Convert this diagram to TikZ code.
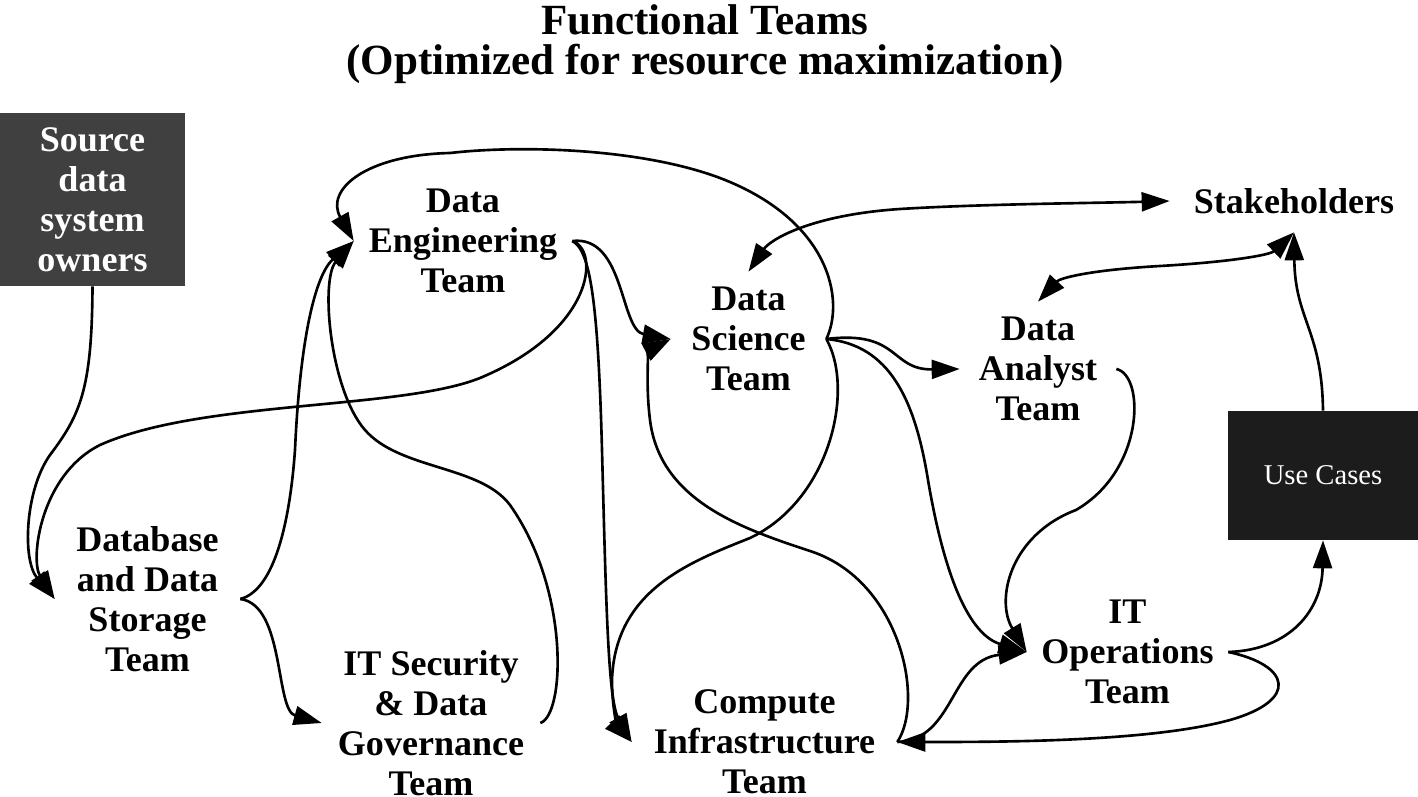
\documentclass[tikz,border=0pt]{standalone}
\usepackage{fontspec}
\setmainfont{Liberation Serif}
\usetikzlibrary{arrows.meta}
\definecolor{sourcegray}{HTML}{404040}
\definecolor{usecaseblack}{HTML}{1C1C1C}

\begin{document}
\begin{tikzpicture}[x=0.02cm, y=-0.02cm,
    team/.style={align=center, inner sep=0pt,
      font=\fontsize{20.5}{22.76}\selectfont\bfseries},
    darkbox/.style={team, fill=#1, text=white},
    flow/.style={line width=1.5pt, -{Triangle[length=0.56cm, width=0.38cm]}},
    both ways/.style={flow, {Triangle[length=0.56cm, width=0.38cm]}-{Triangle[length=0.56cm, width=0.38cm]}}]
  \useasboundingbox (0,0) rectangle (1418,797);

  \node[align=center, font=\fontsize{24.5}{22.76}\selectfont\bfseries] (title) at (705,44)
    {Functional Teams\\ (Optimized for resource maximization)};

  \node[darkbox=sourcegray, minimum width=3.7cm, minimum height=3.46cm] (src) at (92.5,199.5)
    {Source\\ data\\ system\\ owners};
  \node[team, minimum width=4.36cm, minimum height=2.6cm] (de) at (463,241) {Data\\ Engineering\\ Team};
  \node[team, minimum width=3.1cm, minimum height=2.68cm] (ds) at (748.5,339) {Data\\ Science\\ Team};
  \node[team, minimum width=4.96cm, minimum height=1.24cm] (sh) at (1294,201) {Stakeholders};
  \node[team, minimum width=3.12cm, minimum height=2.68cm] (da) at (1038,369) {Data\\ Analyst\\ Team};
  \node[darkbox=usecaseblack, font=\fontsize{16.3}{19}\selectfont, minimum width=3.8cm,
    minimum height=2.58cm] (uc) at (1323,475.5) {Use Cases};
  \node[team, minimum width=3.7cm, minimum height=3.4cm] (db) at (147.5,599)
    {Database\\ and Data\\ Storage\\ Team};
  \node[team, minimum width=4.36cm, minimum height=3.4cm] (itsec) at (431,723)
    {IT Security\\ \& Data\\ Governance\\ Team};
  \node[team, minimum width=5.3cm, minimum height=2.6cm] (ci) at (764.5,742)
    {Compute\\ Infrastructure\\ Team};
  \node[team, minimum width=4.02cm, minimum height=2.6cm] (ops) at (1127.5,652)
    {IT\\ Operations\\ Team};

  % left side
  \draw[flow] (src.south) .. controls (92,390) and (80,415) .. (50,455)
    .. controls (25,490) and (22,560) .. (db.west);
  \draw[flow] (de.east) .. controls (600,250) and (595,330) .. (480,378)
    .. controls (400,410) and (200,400) .. (100,445)
    .. controls (40,475) and (30,560) .. (db.west);
  \draw[flow] (db.east) .. controls (275,590) and (290,520) .. (295,450)
    .. controls (300,340) and (315,275) .. (de.west);
  \draw[flow] (db.east) .. controls (285,605) and (275,710) .. (itsec.west);
  \draw[flow] (itsec.east) .. controls (565,715) and (570,590) .. (510,505)
    .. controls (480,465) and (400,470) .. (365,430)
    .. controls (330,390) and (320,280) .. (de.west);

  % data engineering and data science
  \draw[flow] (ds.east) .. controls (845,300) and (830,220) .. (720,178)
    .. controls (640,148) and (520,145) .. (450,153)
    .. controls (365,155) and (325,190) .. (de.west);
  \draw[flow] (de.east) .. controls (625,235) and (620,330) .. (ds.west);
  \draw[flow] (de.east) .. controls (590,250) and (598,300) .. (602,450)
    .. controls (606,600) and (608,700) .. (ci.west);
  \draw[flow] (ds.east) .. controls (855,390) and (830,500) .. (750,538)
    .. controls (690,562) and (615,590) .. (612,680)
    .. controls (612,715) and (620,730) .. (ci.west);
  \draw[flow] (ci.east) .. controls (925,700) and (900,580) .. (810,551)
    .. controls (740,528) and (660,500) .. (650,420)
    .. controls (645,380) and (650,350) .. (ds.west);
  \draw[flow] (ds.east) .. controls (900,330) and (890,370) .. (da.west);
  \draw[flow] (ds.east) .. controls (890,345) and (915,400) .. (928,480)
    .. controls (945,580) and (970,635) .. (ops.west);
  \draw[both ways] (ds.north) .. controls (770,240) and (810,215) .. (900,209)
    .. controls (980,204) and (1100,203) .. (sh.west);

  % right side
  \draw[both ways] (da.north) .. controls (1060,278) and (1090,270) .. (1160,266)
    .. controls (1230,262) and (1270,255) .. (sh.south);
  \draw[flow] (da.east) .. controls (1145,375) and (1145,470) .. (1076,510)
    .. controls (1010,535) and (995,600) .. (ops.west);
  \draw[flow] (ci.east) .. controls (955,740) and (950,660) .. (ops.west);
  \draw[flow] (ops.east) .. controls (1290,665) and (1300,700) .. (1230,720)
    .. controls (1150,742) and (1000,742) .. (ci.east);
  \draw[flow] (ops.east) .. controls (1290,650) and (1322,610) .. (uc.south);
  \draw[flow] (uc.north) .. controls (1322,330) and (1295,320) .. (sh.south);
\end{tikzpicture}
\end{document}
